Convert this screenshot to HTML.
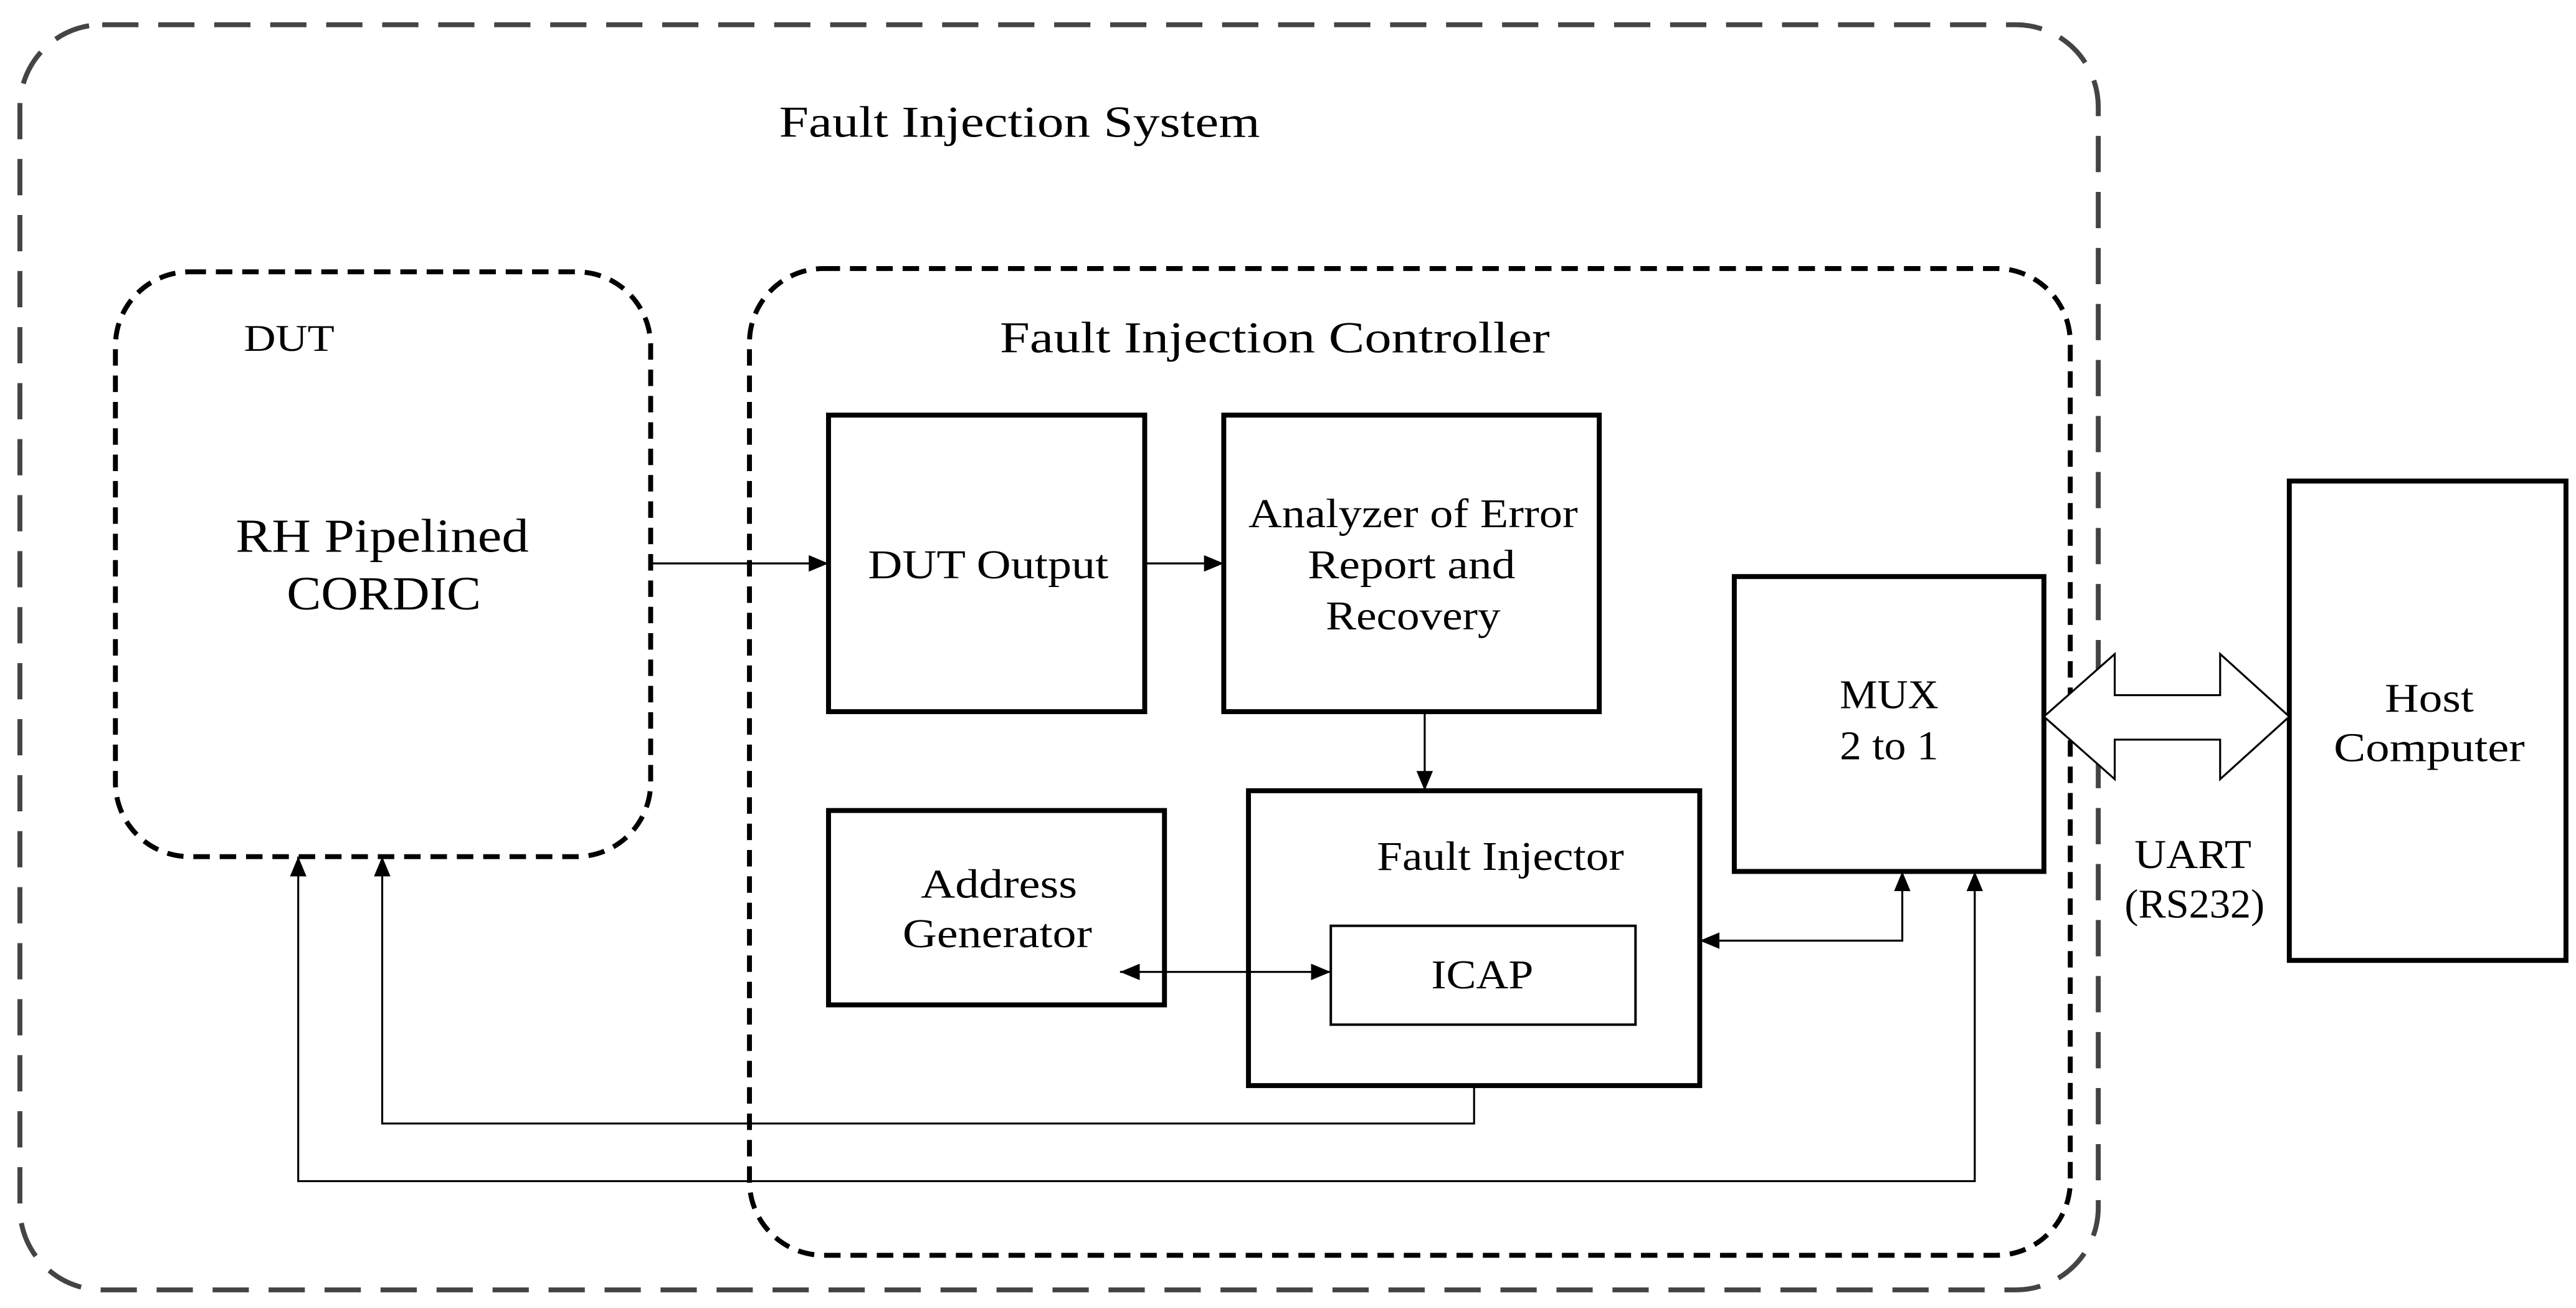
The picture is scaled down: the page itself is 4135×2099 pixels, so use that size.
<!DOCTYPE html>
<html><head><meta charset="utf-8"><style>
html,body{margin:0;padding:0;background:#fff;}
svg{display:block;}
text{font-family:"Liberation Serif",serif;fill:#000;}
</style></head><body>
<svg width="4135" height="2099" viewBox="0 0 1564 794" xmlns="http://www.w3.org/2000/svg">
<defs>
<marker id="a" markerWidth="12" markerHeight="10" refX="12" refY="5" orient="auto" markerUnits="userSpaceOnUse">
<path d="M0,0 L12,5 L0,10 Z" fill="#000"/></marker>
<marker id="b" markerWidth="12" markerHeight="10" refX="0" refY="5" orient="auto" markerUnits="userSpaceOnUse">
<path d="M12,0 L0,5 L12,10 Z" fill="#000"/></marker>
</defs>
<rect width="1564" height="794" fill="#fff"/>
<rect x="12" y="15" width="1262" height="768" rx="50" fill="none" stroke="#444" stroke-width="3" stroke-dasharray="22,12"/>
<text x="473" y="83" font-size="27" textLength="292" lengthAdjust="spacingAndGlyphs">Fault Injection System</text>
<rect x="70" y="165" width="325" height="355" rx="45" fill="none" stroke="#000" stroke-width="3" stroke-dasharray="10,6"/>
<text x="148" y="213" font-size="23" textLength="55" lengthAdjust="spacingAndGlyphs">DUT</text>
<text x="143" y="335" font-size="29" textLength="178" lengthAdjust="spacingAndGlyphs">RH Pipelined</text>
<text x="174" y="370" font-size="29" textLength="118" lengthAdjust="spacingAndGlyphs">CORDIC</text>
<rect x="455" y="163" width="802" height="599" rx="45" fill="none" stroke="#000" stroke-width="3" stroke-dasharray="10,6"/>
<text x="607" y="214" font-size="27" textLength="334" lengthAdjust="spacingAndGlyphs">Fault Injection Controller</text>
<g fill="none" stroke="#000" stroke-width="3">
<rect x="503" y="252" width="192" height="180"/>
<rect x="743" y="252" width="228" height="180"/>
<rect x="758" y="480" width="274" height="179"/>
<rect x="503" y="492" width="204" height="118"/>
<rect x="1053" y="350" width="188" height="179"/>
<rect x="1390" y="292" width="168" height="291"/>
</g>
<rect x="808" y="562" width="185" height="60" fill="none" stroke="#000" stroke-width="1.5"/>
<g font-size="25">
<text x="527" y="351" textLength="146" lengthAdjust="spacingAndGlyphs">DUT Output</text>
<text x="758" y="320" textLength="200" lengthAdjust="spacingAndGlyphs">Analyzer of Error</text>
<text x="794" y="351" textLength="126" lengthAdjust="spacingAndGlyphs">Report and</text>
<text x="805" y="382" textLength="106" lengthAdjust="spacingAndGlyphs">Recovery</text>
<text x="836" y="528" textLength="150" lengthAdjust="spacingAndGlyphs">Fault Injector</text>
<text x="869" y="600" textLength="62" lengthAdjust="spacingAndGlyphs">ICAP</text>
<text x="559" y="545" textLength="95" lengthAdjust="spacingAndGlyphs">Address</text>
<text x="548" y="575" textLength="115" lengthAdjust="spacingAndGlyphs">Generator</text>
<text x="1117" y="430" textLength="60" lengthAdjust="spacingAndGlyphs">MUX</text>
<text x="1117" y="461" textLength="60" lengthAdjust="spacingAndGlyphs">2 to 1</text>
<text x="1448" y="432" textLength="54" lengthAdjust="spacingAndGlyphs">Host</text>
<text x="1417" y="462" textLength="116" lengthAdjust="spacingAndGlyphs">Computer</text>
<text x="1296" y="527" textLength="71" lengthAdjust="spacingAndGlyphs">UART</text>
<text x="1290" y="557" textLength="85" lengthAdjust="spacingAndGlyphs">(RS232)</text>
</g>
<g fill="none" stroke="#000" stroke-width="1.2">
<line x1="395" y1="342" x2="503" y2="342" marker-end="url(#a)"/>
<line x1="695" y1="342" x2="743" y2="342" marker-end="url(#a)"/>
<line x1="865" y1="432" x2="865" y2="480" marker-end="url(#a)"/>
<line x1="680" y1="590" x2="808" y2="590" marker-start="url(#b)" marker-end="url(#a)"/>
<polyline points="1155,529 1155,571 1032,571" marker-start="url(#b)" marker-end="url(#a)"/>
<polyline points="1199,529 1199,717 181,717 181,520" marker-start="url(#b)" marker-end="url(#a)"/>
<polyline points="895,659 895,682 232,682 232,520" marker-end="url(#a)"/>
</g>
<path d="M1241,435 L1284,397 L1284,422 L1348,422 L1348,397 L1390,435 L1348,473 L1348,449 L1284,449 L1284,473 Z" fill="#fff" stroke="#000" stroke-width="1.2"/>
</svg>
</body></html>
